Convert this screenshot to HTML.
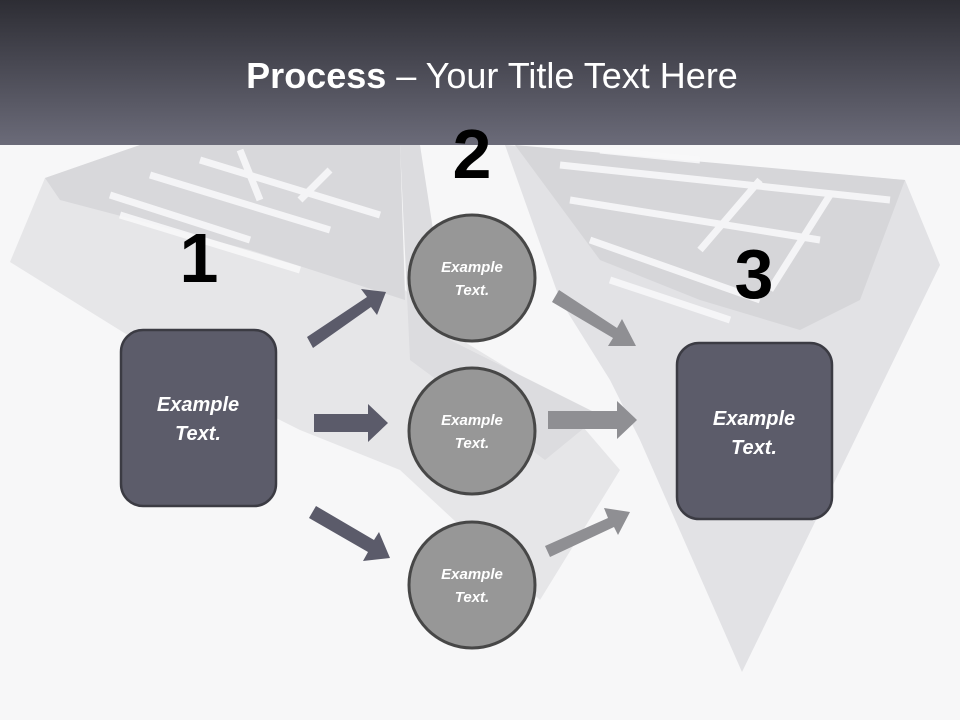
<!DOCTYPE html>
<html><head><style>
body{margin:0;width:960px;height:720px;overflow:hidden;background:#f7f7f8;font-family:"Liberation Sans",sans-serif;}
</style></head><body>
<svg width="960" height="720" style="position:absolute;left:0;top:0">
<defs><linearGradient id="h" x1="0" y1="0" x2="0" y2="1"><stop offset="0" stop-color="#2d2d34"/><stop offset="1" stop-color="#6b6b79"/></linearGradient></defs>
<rect width="960" height="720" fill="#f7f7f8"/>
<polygon points="10,262 45,178 140,145 400,145 405,290 445,330 560,400 620,470 540,600 400,470 300,430 200,380" fill="#e6e6e8"/>
<polygon points="45,178 140,145 400,145 405,300 250,250 60,200" fill="#d8d8db"/>
<polygon points="400,145 420,145 450,340 570,400 600,415 545,460 410,360" fill="#dcdcdf"/>
<polygon points="505,145 905,180 940,265 742,672 640,440 610,380 560,300" fill="#e2e2e5"/>
<polygon points="515,145 905,180 860,300 800,330 700,300 600,260" fill="#d6d6d9"/>
<g stroke="#f7f7f8" stroke-width="7" fill="none" opacity="0.9">
<path d="M110,195 L250,240 M150,175 L330,230 M200,160 L380,215 M120,215 L300,270 M240,150 L260,200 M300,200 L330,170"/>
<path d="M560,165 L890,200 M570,200 L820,240 M590,240 L760,300 M610,280 L730,320 M760,180 L700,250 M830,195 L770,290 M600,150 L700,160"/>
</g>
<rect width="960" height="145" fill="url(#h)"/>
<g fill="#5b5b6a">
<polygon points="307,337 367,297 361,289 386,292 377,315 371,307 313,348"/>
<polygon points="314,414 368,414 368,404 388,423 368,442 368,432 314,432"/>
<polygon points="309,518 316,506 374,540 379,532 390,558 363,561 368,552"/>
</g>
<g fill="#8f8f93">
<polygon points="552,302 559,290 617,328 622,319 636,346 608,346 613,338"/>
<polygon points="548,411 617,411 617,401 637,420 617,439 617,429 548,429"/>
<polygon points="545,546 608,518 604,508 630,512 618,535 614,527 550,557"/>
</g>
<rect x="121" y="330" width="155" height="176" rx="22" fill="#5c5c6a" stroke="#3b3b43" stroke-width="2.5"/>
<rect x="677" y="343" width="155" height="176" rx="22" fill="#5c5c6a" stroke="#3b3b43" stroke-width="2.5"/>
<g fill="#979797" stroke="#474747" stroke-width="3">
<circle cx="472" cy="278" r="63"/><circle cx="472" cy="431" r="63"/><circle cx="472" cy="585" r="63"/>
</g>
<g font-family="Liberation Sans,sans-serif" font-weight="bold" font-style="italic" fill="#fff" text-anchor="middle">
<text x="198" y="411" font-size="20">Example</text><text x="198" y="440" font-size="20">Text.</text>
<text x="754" y="425" font-size="20">Example</text><text x="754" y="454" font-size="20">Text.</text>
<text x="472" y="272" font-size="15">Example</text><text x="472" y="295" font-size="15">Text.</text>
<text x="472" y="425" font-size="15">Example</text><text x="472" y="448" font-size="15">Text.</text>
<text x="472" y="579" font-size="15">Example</text><text x="472" y="602" font-size="15">Text.</text>
</g>
<g font-family="Liberation Sans,sans-serif" font-weight="bold" fill="#000" text-anchor="middle" font-size="70">
<text x="199" y="282">1</text><text x="472" y="178">2</text><text x="754" y="298">3</text>
</g>
<text x="492" y="88" text-anchor="middle" fill="#fff" font-size="36" font-family="Liberation Sans,sans-serif"><tspan font-weight="bold">Process</tspan> – Your Title Text Here</text>
</svg>
</body></html>
